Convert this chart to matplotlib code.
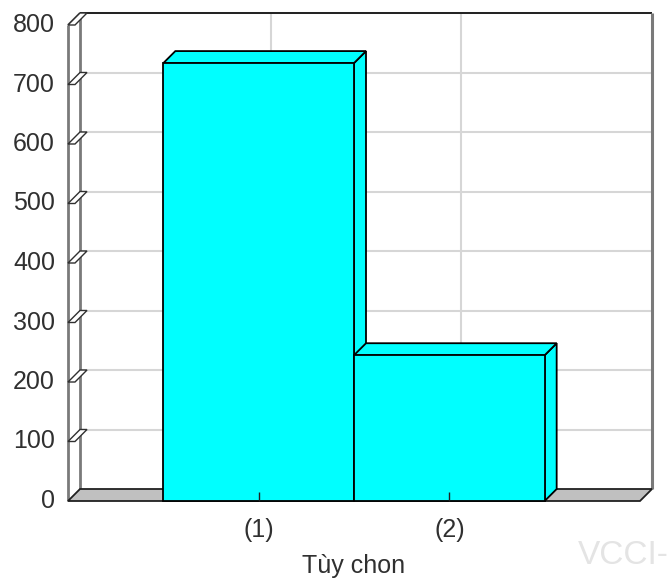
import matplotlib
matplotlib.use("Agg")
import matplotlib.pyplot as plt
from matplotlib.patches import Polygon
from matplotlib.transforms import offset_copy

# ---------------------------------------------------------------
# Data
# ---------------------------------------------------------------
categories = ["(1)", "(2)"]
values = [736, 245]
y_ticks = [0, 100, 200, 300, 400, 500, 600, 700, 800]
x_title = "Tùy chon"
watermark = "VCCI-"

BAR_COLOR = "#00ffff"
FLOOR_COLOR = "#c0c0c0"
GRID_COLOR = "#d6d6d6"
WALL_COLOR = "#7a7a7a"
TEXT_COLOR = "#303030"
DEPTH_PX = 12

plt.rcParams["font.family"] = ["Liberation Sans", "DejaVu Sans"]

W, H = 672, 578
fig = plt.figure(figsize=(W / 100, H / 100), dpi=100)
ax = fig.add_axes([68 / W, 1 - 501 / H, 572 / W, 476 / H])
xmax = len(categories) + 1
ymax = y_ticks[-1]
ax.set_xlim(0, xmax)
ax.set_ylim(0, ymax)
ax.axis("off")

# depth offset of the 3D look, converted to data units
pos = ax.get_position()
dx = DEPTH_PX / (pos.width * W / xmax)
dy = DEPTH_PX / (pos.height * H / ymax)


def poly(pts, fc, ec="black", lw=1.3, z=2):
    p = Polygon(pts, closed=True, facecolor=fc, edgecolor=ec, linewidth=lw,
                joinstyle="miter", zorder=z, clip_on=False)
    ax.add_patch(p)


def line(xs, ys, color, lw, z=1):
    ax.plot(xs, ys, color=color, linewidth=lw, zorder=z, clip_on=False,
            solid_capstyle="butt")


# back wall + grid
poly([(dx, dy), (xmax + dx, dy), (xmax + dx, ymax + dy), (dx, ymax + dy)],
     "white", ec="none", z=0)
for v in y_ticks[1:]:
    line([dx, xmax + dx], [v + dy, v + dy], GRID_COLOR, 1.5)
for i in range(1, xmax):
    line([i + dx, i + dx], [dy, ymax + dy], GRID_COLOR, 1.5)
line([dx, xmax + dx], [ymax + dy, ymax + dy], "#202020", 1.4)
line([xmax + dx, xmax + dx], [dy, ymax + dy], WALL_COLOR, 2.2)

# left wall
line([0, 0], [0, ymax], WALL_COLOR, 2.0)
line([dx, dx], [dy, ymax + dy], WALL_COLOR, 2.0)
line([0, dx], [ymax, ymax + dy], WALL_COLOR, 1.5)
tw = 7 / (pos.width * W / xmax)
for v in y_ticks[1:]:
    poly([(0, v), (tw, v), (tw + dx, v + dy), (dx, v + dy)], "white",
         ec="#303030", lw=1.0, z=1.5)

# floor
poly([(0, 0), (xmax, 0), (xmax + dx, dy), (dx, dy)], FLOOR_COLOR,
     ec="#202020", lw=1.3, z=1.2)

# bars
for i, v in enumerate(values):
    x0, x1 = i + 0.5, i + 1.5
    poly([(x1, 0), (x1 + dx, dy), (x1 + dx, v + dy), (x1, v)], BAR_COLOR, z=3 + i)
    poly([(x0, v), (x1, v), (x1 + dx, v + dy), (x0 + dx, v + dy)], BAR_COLOR, z=3 + i)
    poly([(x0, 0), (x1, 0), (x1, v), (x0, v)], BAR_COLOR, z=3 + i)

# category ticks
for i in range(len(categories)):
    line([i + 1, i + 1], [0, 15], "#202020", 1.0, z=10)

# labels
ylab_tr = offset_copy(ax.transData, fig=fig, x=-13, y=0, units="dots")
for v in y_ticks:
    ax.text(0, v, str(v), transform=ylab_tr, ha="right", va="center",
            fontsize=18, color=TEXT_COLOR)

xlab_tr = offset_copy(ax.transData, fig=fig, x=0, y=-29, units="dots")
for i, c in enumerate(categories):
    ax.text(i + 1, 0, c, transform=xlab_tr, ha="center", va="center",
            fontsize=18, color=TEXT_COLOR)

title_tr = offset_copy(ax.transData, fig=fig, x=0, y=-65, units="dots")
ax.text(xmax / 2, 0, x_title, transform=title_tr, ha="center", va="center",
        fontsize=18, color=TEXT_COLOR)

fig.text(578 / W, 1 - 556 / H, watermark, ha="left", va="center",
         fontsize=24, color="#e4e4e4")

fig.savefig("out.png", dpi=100)
